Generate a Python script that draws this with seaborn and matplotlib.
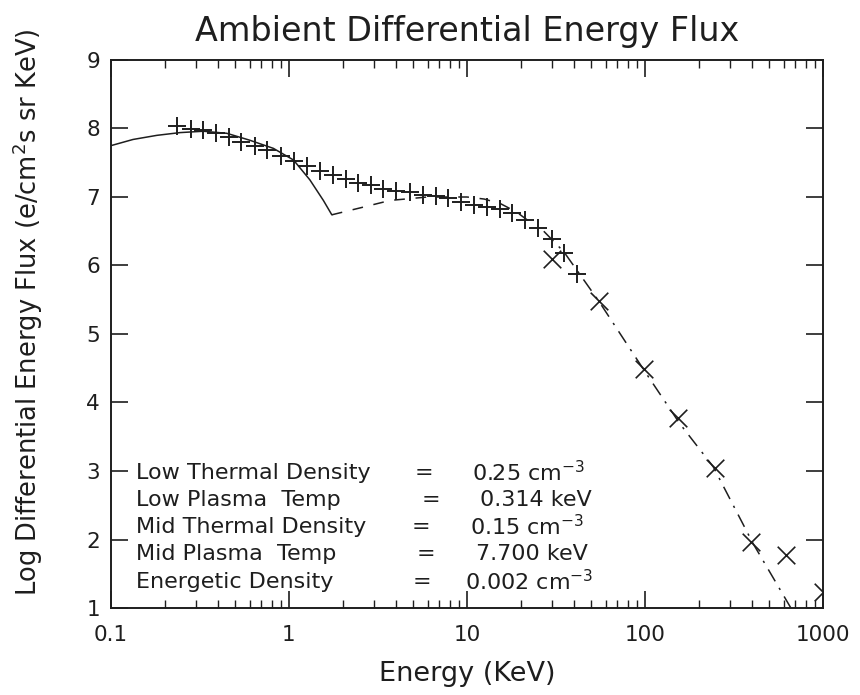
import matplotlib
matplotlib.use("Agg")
import matplotlib.pyplot as plt
import seaborn as sns
import pandas as pd
import numpy as np
from matplotlib.ticker import FixedLocator, FixedFormatter, LogLocator, NullFormatter

# ---- data ----
plus_energy = [0.236, 0.28, 0.33, 0.39, 0.46, 0.54, 0.64, 0.75, 0.90, 1.07, 1.27, 1.49,
               1.76, 2.08, 2.45, 2.88, 3.39, 3.98, 4.79, 5.63, 6.70, 7.86, 9.22, 11.0,
               12.9, 15.3, 18.0, 21.2, 25.1, 29.9, 35.2, 41.3]
plus_flux = [8.03, 7.99, 7.98, 7.93, 7.87, 7.80, 7.75, 7.68, 7.60, 7.53, 7.45, 7.38,
             7.32, 7.26, 7.21, 7.17, 7.12, 7.09, 7.07, 7.03, 7.01, 6.99, 6.93, 6.89,
             6.85, 6.82, 6.76, 6.67, 6.55, 6.39, 6.18, 5.88]

x_energy = [29.9, 55.3, 98.6, 153.7, 247, 392, 619, 995]
x_flux = [6.10, 5.48, 4.49, 3.77, 3.04, 1.96, 1.77, 1.23]

low_energy = [0.1, 0.133, 0.181, 0.244, 0.33, 0.447, 0.60, 0.817, 1.06, 1.31, 1.56, 1.74]
low_flux = [7.75, 7.84, 7.90, 7.94, 7.96, 7.93, 7.83, 7.71, 7.54, 7.25, 6.95, 6.74]

mid_energy = [1.74, 2.5, 3.7, 6.0, 10.0, 12.5, 15.5, 19.0, 23.0]
mid_flux = [6.74, 6.84, 6.95, 7.00, 7.00, 6.97, 6.90, 6.78, 6.62]

ene_energy = [27.0, 35.0, 55.0, 100.0, 157.0, 242.0, 405.0, 660.0]
ene_flux = [6.50, 6.20, 5.48, 4.45, 3.69, 3.06, 1.94, 1.00]

param_names = ["Low Thermal Density", "Low Plasma  Temp", "Mid Thermal Density",
               "Mid Plasma  Temp", "Energetic Density"]
param_values = ["0.25 cm$^{-3}$", "0.314 keV", "0.15 cm$^{-3}$", "7.700 keV", "0.002 cm$^{-3}$"]

xticks = [0.1, 1, 10, 100, 1000]
xtick_labels = ["0.1", "1", "10", "100", "1000"]
yticks = [1, 2, 3, 4, 5, 6, 7, 8, 9]

# ---- figure ----
sns.set_style("ticks")
plt.rcParams["font.family"] = ["DejaVu Sans"]
ink = "#1e1e1e"

fig = plt.figure(figsize=(8.6, 6.95), dpi=100)
ax = fig.add_axes([111/860, 1 - 608/695, (823-111)/860, (608-60)/695])

df_low = pd.DataFrame({"E": low_energy, "F": low_flux})
df_mid = pd.DataFrame({"E": mid_energy, "F": mid_flux})
df_ene = pd.DataFrame({"E": ene_energy, "F": ene_flux})
df_plus = pd.DataFrame({"E": plus_energy, "F": plus_flux})
df_x = pd.DataFrame({"E": x_energy, "F": x_flux})

sns.lineplot(data=df_low, x="E", y="F", ax=ax, color=ink, lw=1.1, sort=False, estimator=None)
sns.lineplot(data=df_mid, x="E", y="F", ax=ax, color=ink, lw=1.1, sort=False, estimator=None,
             linestyle=(0, (7, 7)))
sns.lineplot(data=df_ene, x="E", y="F", ax=ax, color=ink, lw=1.1, sort=False, estimator=None,
             linestyle=(0, (9, 5, 1.5, 5)))
sns.scatterplot(data=df_plus, x="E", y="F", ax=ax, marker="+", s=150, color=ink, linewidth=1.4)
sns.scatterplot(data=df_x, x="E", y="F", ax=ax, marker="x", s=160, color=ink, linewidth=1.2)

ax.set_xscale("log")
ax.set_xlim(0.1, 1000)
ax.set_ylim(1, 9)
ax.xaxis.set_major_locator(FixedLocator(xticks))
ax.xaxis.set_major_formatter(FixedFormatter(xtick_labels))
ax.xaxis.set_minor_locator(LogLocator(base=10, subs=np.arange(2, 10)))
ax.xaxis.set_minor_formatter(NullFormatter())
ax.set_yticks(yticks)
ax.set_yticklabels([str(v) for v in yticks])

for s in ax.spines.values():
    s.set_color(ink)
    s.set_linewidth(1.4)
ax.tick_params(which="both", direction="in", top=True, right=True, color=ink)
ax.tick_params(which="major", length=12, width=1.2, labelsize=15.5, labelcolor=ink)
ax.tick_params(axis="x", which="major", pad=12)
ax.tick_params(axis="y", which="major", pad=8)
ax.tick_params(which="minor", length=6, width=1.0)

ax.set_xlabel("Energy (KeV)", fontsize=19.5, color=ink, labelpad=12)
ax.set_ylabel("Log Differential Energy Flux (e/cm$^2$s sr KeV)", fontsize=18.5, color=ink)
ax.yaxis.set_label_coords(-0.093, 0.54)
ax.set_title("Ambient Differential Energy Flux", fontsize=24, color=ink, pad=14)

# parameter text block
row_y = [473, 500, 527, 554, 582]
eq_x = [415, 422, 412, 417, 413]
val_x = [472, 480, 470, 476, 465]
for i, (nm, val) in enumerate(zip(param_names, param_values)):
    yf = 1 - row_y[i] / 695
    fig.text(136/860, yf, nm, fontsize=16, color=ink, va="center", ha="left")
    fig.text(eq_x[i]/860, yf, "=", fontsize=16, color=ink, va="center", ha="left")
    fig.text(val_x[i]/860, yf, val, fontsize=16, color=ink, va="center", ha="left")

fig.savefig("out.png", dpi=100, facecolor="white")
